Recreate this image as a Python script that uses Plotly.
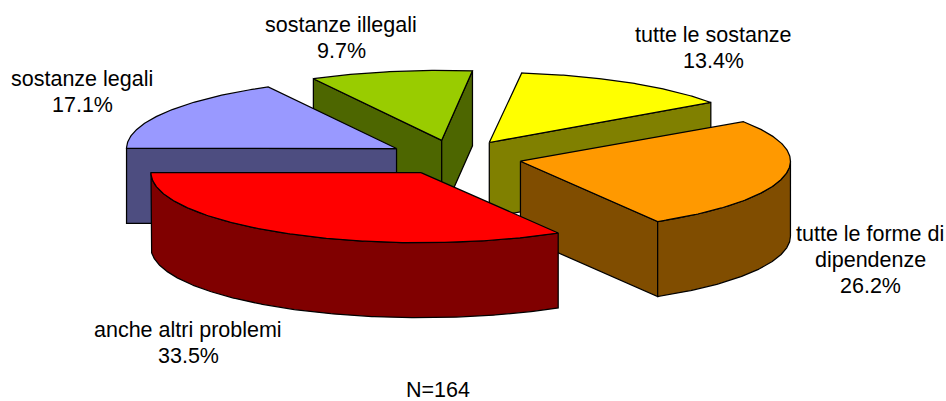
import math
import plotly.graph_objects as go

# --- data ---
labels = ["tutte le sostanze", "tutte le forme di<br>dipendenze", "anche altri problemi", "sostanze legali", "sostanze illegali"]
percents = [13.4, 26.2, 33.5, 17.1, 9.7]
top_colors = ["#FFFF00", "#FF9900", "#FF0000", "#9999FF", "#99CC00"]
side_colors = ["#808000", "#804D00", "#800000", "#4D4D80", "#4D6600"]
label_pos = [(713.5, 35), (870, 234), (188, 330), (82, 79), (341, 25)]
draw_order = [4, 0, 3, 1, 2]
note = "N=164"

# --- pie projection (pixels) ---
CX, CY = 454.5, 157.5
A, B = 270, 70
DEPTH = 75
EXPLODE = 0.25
START = 6.9
LINE_STEP = 26
FONT = dict(family="Liberation Sans, Arial", size=21.5, color="#000000")


def pt(ax, ay, deg, r=1.0):
    t = math.radians(deg)
    return ax + A * r * math.sin(t), ay - B * r * math.cos(t)


def arc(ax, ay, t1, t2, dy=0):
    n = max(2, int(abs(t2 - t1) * 2))
    pts = [pt(ax, ay, t1 + (t2 - t1) * i / n) for i in range(n + 1)]
    return [(x, y + dy) for x, y in pts]


fig = go.Figure()


def poly(pts, fill):
    xs = [p[0] for p in pts] + [pts[0][0]]
    ys = [p[1] for p in pts] + [pts[0][1]]
    fig.add_trace(go.Scatter(x=xs, y=ys, mode="lines", fill="toself", fillcolor=fill,
                             line=dict(color="#000000", width=1.25), hoverinfo="skip", showlegend=False))


angles = []
a = START
for v in percents:
    angles.append((a, a + v * 3.6))
    a += v * 3.6

for i in draw_order:
    t1, t2 = angles[i]
    mid = (t1 + t2) / 2
    ax, ay = pt(CX, CY, mid, EXPLODE)
    apex = (ax, ay)
    apex_low = (ax, ay + DEPTH)
    # radial walls that face the viewer
    if math.sin(math.radians(t1)) < -1e-6:
        p = pt(ax, ay, t1)
        poly([apex, p, (p[0], p[1] + DEPTH), apex_low], side_colors[i])
    if math.sin(math.radians(t2)) > 1e-6:
        p = pt(ax, ay, t2)
        poly([apex, p, (p[0], p[1] + DEPTH), apex_low], side_colors[i])
    # outer wall, front part only
    lo, hi = max(t1, 90), min(t2, 270)
    if lo < hi:
        upper = arc(ax, ay, lo, hi)
        lower = arc(ax, ay, hi, lo, DEPTH)
        poly(upper + lower, side_colors[i])
    # top face
    poly([apex] + arc(ax, ay, t1, t2), top_colors[i])

for name, v, (x, y) in zip(labels, percents, label_pos):
    lines = name.split("<br>") + [f"{v:.1f}%"]
    for k, line in enumerate(lines):
        fig.add_annotation(x=x, y=y + k * LINE_STEP, text=line, showarrow=False, xref="x", yref="y",
                           align="center", font=FONT)
fig.add_annotation(x=438, y=389.5, text=note, showarrow=False, xref="x", yref="y", font=FONT)

fig.update_layout(width=946, height=401, margin=dict(l=0, r=0, t=0, b=0),
                  paper_bgcolor="#FFFFFF", plot_bgcolor="#FFFFFF", showlegend=False,
                  xaxis=dict(range=[0, 946], visible=False, fixedrange=True),
                  yaxis=dict(range=[401, 0], visible=False, fixedrange=True))
fig.write_html("out.html", config=dict(displayModeBar=False),
               post_script="document.body.style.margin='0';document.documentElement.style.overflow='hidden';")
